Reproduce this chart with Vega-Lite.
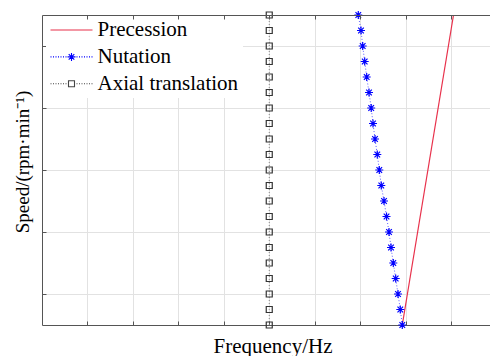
{
  "$schema": "https://vega.github.io/schema/vega-lite/v6.json",
  "width": 448,
  "height": 310,
  "autosize": "none",
  "padding": {"left": 42, "top": 15, "right": 0, "bottom": 31},
  "background": "white",
  "config": {"view": {"stroke": null}, "font": "Liberation Serif"},
  "datasets": {
    "prec": [
      {"series": "Precession", "freq": 7.927, "speed": 0},
      {"series": "Precession", "freq": 9.054, "speed": 10}
    ],
    "nut": [
      {"series": "Nutation", "freq": 6.959, "speed": 10},
      {"series": "Nutation", "freq": 7.019, "speed": 9.5},
      {"series": "Nutation", "freq": 7.056, "speed": 9},
      {"series": "Nutation", "freq": 7.100, "speed": 8.5},
      {"series": "Nutation", "freq": 7.144, "speed": 8},
      {"series": "Nutation", "freq": 7.195, "speed": 7.5},
      {"series": "Nutation", "freq": 7.243, "speed": 7},
      {"series": "Nutation", "freq": 7.283, "speed": 6.5},
      {"series": "Nutation", "freq": 7.327, "speed": 6},
      {"series": "Nutation", "freq": 7.377, "speed": 5.5},
      {"series": "Nutation", "freq": 7.421, "speed": 5},
      {"series": "Nutation", "freq": 7.465, "speed": 4.5},
      {"series": "Nutation", "freq": 7.525, "speed": 4},
      {"series": "Nutation", "freq": 7.580, "speed": 3.5},
      {"series": "Nutation", "freq": 7.635, "speed": 3},
      {"series": "Nutation", "freq": 7.679, "speed": 2.5},
      {"series": "Nutation", "freq": 7.729, "speed": 2},
      {"series": "Nutation", "freq": 7.782, "speed": 1.5},
      {"series": "Nutation", "freq": 7.833, "speed": 1},
      {"series": "Nutation", "freq": 7.883, "speed": 0.5},
      {"series": "Nutation", "freq": 7.927, "speed": 0}
    ],
    "axial": [
      {"series": "Axial translation", "freq": 5, "speed": 0},
      {"series": "Axial translation", "freq": 5, "speed": 0.5},
      {"series": "Axial translation", "freq": 5, "speed": 1},
      {"series": "Axial translation", "freq": 5, "speed": 1.5},
      {"series": "Axial translation", "freq": 5, "speed": 2},
      {"series": "Axial translation", "freq": 5, "speed": 2.5},
      {"series": "Axial translation", "freq": 5, "speed": 3},
      {"series": "Axial translation", "freq": 5, "speed": 3.5},
      {"series": "Axial translation", "freq": 5, "speed": 4},
      {"series": "Axial translation", "freq": 5, "speed": 4.5},
      {"series": "Axial translation", "freq": 5, "speed": 5},
      {"series": "Axial translation", "freq": 5, "speed": 5.5},
      {"series": "Axial translation", "freq": 5, "speed": 6},
      {"series": "Axial translation", "freq": 5, "speed": 6.5},
      {"series": "Axial translation", "freq": 5, "speed": 7},
      {"series": "Axial translation", "freq": 5, "speed": 7.5},
      {"series": "Axial translation", "freq": 5, "speed": 8},
      {"series": "Axial translation", "freq": 5, "speed": 8.5},
      {"series": "Axial translation", "freq": 5, "speed": 9},
      {"series": "Axial translation", "freq": 5, "speed": 9.5},
      {"series": "Axial translation", "freq": 5, "speed": 10}
    ]
  },
  "layer": [
    {
      "data": {"name": "prec"},
      "mark": {"type": "line", "strokeWidth": 1.2},
      "encoding": {
        "x": {
          "field": "freq", "type": "quantitative",
          "scale": {"domain": [0, 9.857], "nice": false, "zero": false},
          "axis": {
            "orient": "bottom", "values": [1, 2, 3, 4, 5, 6, 7, 8, 9],
            "labels": false, "tickSize": -4, "tickColor": "#555", "domainColor": "#555",
            "grid": true, "gridColor": "#e2e2e2",
            "title": "Frequency/Hz", "titleFont": "Liberation Serif", "titleFontSize": 21,
            "titleFontWeight": "normal", "titleColor": "black",
            "titleX": 230.5, "titleY": 27, "titleBaseline": "alphabetic"
          }
        },
        "y": {
          "field": "speed", "type": "quantitative",
          "scale": {"domain": [0, 10], "nice": false, "zero": false},
          "axis": {
            "values": [1, 2, 3, 4, 5, 6, 7, 8, 9],
            "labels": false, "tickSize": -4, "tickColor": "#555", "domainColor": "#555",
            "grid": true, "gridColor": "#e2e2e2",
            "title": "Speed/(rpm·min⁻¹)", "titleFont": "Liberation Serif", "titleFontSize": 19,
            "titleFontWeight": "normal", "titleColor": "black",
            "titleX": -14, "titleY": 146.5, "titleAngle": -90, "titleBaseline": "alphabetic"
          }
        },
        "color": {
          "field": "series", "type": "nominal",
          "scale": {"domain": ["Precession", "Nutation", "Axial translation"], "range": ["#e8304a", "#0000ff", "#444444"]},
          "legend": {
            "title": null, "orient": "none", "legendX": 4, "legendY": 0,
            "fillColor": "white", "padding": 4,
            "labelFont": "Liberation Serif", "labelFontSize": 21, "labelColor": "black", "labelLimit": 400,
            "symbolSize": 400, "symbolStrokeWidth": 1, "symbolOffset": 10.5, "labelOffset": 15,
            "rowPadding": 5.9, "zindex": 0,
            "encode": {
              "symbols": {
                "update": {
                  "shape": {"signal": "datum.value === 'Precession' ? 'M-2.1,0L2.1,0' : datum.value === 'Nutation' ? 'M-2.1,0h0.1M-1.85,0h0.1M-1.6,0h0.1M-1.35,0h0.1M-1.1,0h0.1M-0.85,0h0.1M-0.6,0h0.1M0.5,0h0.1M0.75,0h0.1M1,0h0.1M1.25,0h0.1M1.5,0h0.1M1.75,0h0.1M2,0h0.1M-0.4,0L0.4,0M0,-0.4L0,0.4M-0.28,-0.28L0.28,0.28M-0.28,0.28L0.28,-0.28' : 'M-2.1,0h0.1M-1.85,0h0.1M-1.6,0h0.1M-1.35,0h0.1M-1.1,0h0.1M-0.85,0h0.1M-0.6,0h0.1M0.5,0h0.1M0.75,0h0.1M1,0h0.1M1.25,0h0.1M1.5,0h0.1M1.75,0h0.1M2,0h0.1M-0.3,-0.3h0.6v0.6h-0.6z'"},
                  "stroke": {"signal": "datum.value === 'Precession' ? '#e8304a' : datum.value === 'Nutation' ? '#0000ff' : '#444444'"},
                  "fill": {"value": "transparent"},
                  "strokeWidth": {"value": 1.1},
                  "opacity": {"value": 1}
                }
              }
            }
          }
        }
      }
    },
    {
      "data": {"name": "axial"},
      "mark": {"type": "line", "color": "#888888", "strokeWidth": 1, "strokeDash": [1, 2]},
      "encoding": {
        "x": {"field": "freq", "type": "quantitative", "axis": null},
        "y": {"field": "speed", "type": "quantitative"},
        "order": {"field": "speed", "type": "quantitative"}
      }
    },
    {
      "data": {"name": "axial"},
      "mark": {"type": "point", "shape": "square", "size": 36, "filled": false, "color": "#333333", "strokeWidth": 1.2, "opacity": 1},
      "encoding": {
        "x": {
          "field": "freq", "type": "quantitative",
          "axis": {
            "orient": "top", "values": [1, 2, 3, 4, 5, 6, 7, 8, 9],
            "labels": false, "tickSize": -4, "tickColor": "#555", "domainColor": "#555",
            "grid": false, "title": null, "zindex": 1
          }
        },
        "y": {"field": "speed", "type": "quantitative"}
      }
    },
    {
      "data": {"name": "nut"},
      "mark": {"type": "line", "color": "#5c5cff", "strokeWidth": 1, "strokeDash": [1, 2]},
      "encoding": {
        "x": {"field": "freq", "type": "quantitative", "axis": null},
        "y": {"field": "speed", "type": "quantitative"},
        "order": {"field": "speed", "type": "quantitative"}
      }
    },
    {
      "data": {"name": "nut"},
      "mark": {"type": "point", "shape": "M-1,0L1,0M0,-1L0,1M-0.7,-0.7L0.7,0.7M-0.7,0.7L0.7,-0.7", "size": 64, "filled": false, "color": "#0000ff", "strokeWidth": 1.2, "opacity": 1},
      "encoding": {
        "x": {"field": "freq", "type": "quantitative", "axis": null},
        "y": {"field": "speed", "type": "quantitative"}
      }
    }
  ],
  "resolve": {"axis": {"x": "independent"}}
}
